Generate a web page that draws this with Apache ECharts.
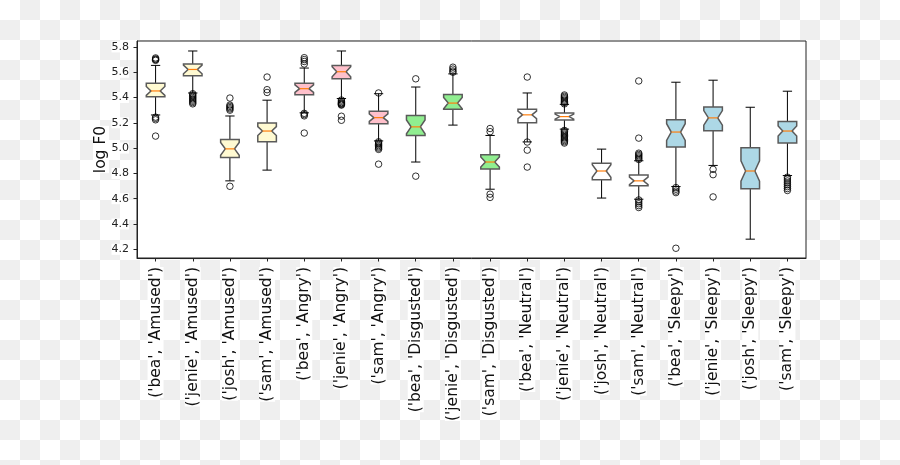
<!DOCTYPE html>
<html>
<head>
<meta charset="utf-8">
<script src="https://cdn.jsdelivr.net/npm/echarts@6/dist/echarts.min.js"></script>
<style>
html,body{margin:0;padding:0;}
body{width:900px;height:465px;background:repeating-conic-gradient(#efefef 0 25%, #ffffff 0 50%) 0 0/40px 40px;}
#chart{width:900px;height:465px;}
</style>
</head>
<body>
<div id="chart"></div>
<script>
const categories = ["('bea', 'Amused')", "('jenie', 'Amused')", "('josh', 'Amused')", "('sam', 'Amused')",
  "('bea', 'Angry')", "('jenie', 'Angry')", "('sam', 'Angry')",
  "('bea', 'Disgusted')", "('jenie', 'Disgusted')", "('sam', 'Disgusted')",
  "('bea', 'Neutral')", "('jenie', 'Neutral')", "('josh', 'Neutral')", "('sam', 'Neutral')",
  "('bea', 'Sleepy')", "('jenie', 'Sleepy')", "('josh', 'Sleepy')", "('sam', 'Sleepy')"];

const whiskerLo = [5.262, 5.436, 4.741, 4.826, 5.279, 5.392, 5.057, 4.890, 5.182, 4.675, 5.049, 5.150, 4.605, 4.596, 4.696, 4.863, 4.280, 4.783];
const q1        = [5.406, 5.573, 4.926, 5.050, 5.421, 5.549, 5.193, 5.100, 5.308, 4.835, 5.200, 5.223, 4.750, 4.703, 5.009, 5.137, 4.678, 5.040];
const notchLo   = [5.417, 5.588, 4.944, 5.100, 5.440, 5.564, 5.211, 5.113, 5.311, 4.850, 5.233, 5.229, 4.769, 4.711, 5.061, 5.181, 4.739, 5.095];
const median    = [5.452, 5.622, 4.994, 5.135, 5.470, 5.604, 5.241, 5.168, 5.356, 4.890, 5.263, 5.249, 4.819, 4.741, 5.127, 5.239, 4.819, 5.135];
const notchHi   = [5.487, 5.656, 5.044, 5.170, 5.500, 5.644, 5.271, 5.223, 5.401, 4.930, 5.293, 5.269, 4.869, 4.771, 5.193, 5.297, 4.899, 5.175];
const q3        = [5.513, 5.665, 5.068, 5.198, 5.512, 5.654, 5.291, 5.258, 5.423, 4.948, 5.308, 5.277, 4.881, 4.787, 5.224, 5.325, 5.002, 5.211];
const whiskerHi = [5.654, 5.768, 5.254, 5.379, 5.633, 5.768, 5.430, 5.483, 5.587, 5.100, 5.436, 5.346, 4.992, 4.900, 5.521, 5.537, 5.323, 5.450];

const fliers = [
  [5.713, 5.705, 5.700, 5.694, 5.245, 5.235, 5.224, 5.095],
  [5.43, 5.42, 5.41, 5.40, 5.39, 5.38, 5.37, 5.36, 5.35],
  [5.396, 5.34, 5.33, 5.32, 5.31, 5.30, 4.698],
  [5.562, 5.462, 5.440],
  [5.715, 5.700, 5.685, 5.665, 5.275, 5.265, 5.255, 5.119],
  [5.38, 5.37, 5.36, 5.355, 5.35, 5.345, 5.34, 5.252, 5.220],
  [5.436, 5.050, 5.040, 5.030, 5.020, 5.010, 5.000, 4.990, 4.873],
  [5.548, 4.778],
  [5.640, 5.625, 5.610, 5.600],
  [5.155, 5.130, 4.636, 4.610],
  [5.562, 5.048, 4.984, 4.850],
  [5.42, 5.41, 5.40, 5.39, 5.38, 5.37, 5.36, 5.35, 5.14, 5.13, 5.12, 5.11, 5.10, 5.09, 5.08, 5.07, 5.06, 5.05, 5.04],
  [],
  [5.531, 5.079, 4.960, 4.950, 4.940, 4.930, 4.920, 4.910, 4.590, 4.575, 4.560, 4.545, 4.530],
  [4.688, 4.675, 4.660, 4.648, 4.208],
  [4.832, 4.790, 4.614],
  [],
  [4.770, 4.755, 4.740, 4.725, 4.710, 4.695, 4.680, 4.665]
];

const boxColors = ['#fffad2', '#fffad2', '#fffad2', '#fffad2',
  '#ffc0cb', '#ffc0cb', '#ffc0cb',
  '#90ee90', '#90ee90', '#90ee90',
  '#ffffff', '#ffffff', '#ffffff', '#ffffff',
  '#add8e6', '#add8e6', '#add8e6', '#add8e6'];

const yTicks = [4.2, 4.4, 4.6, 4.8, 5.0, 5.2, 5.4, 5.6, 5.8];
const yMin = 4.131, yMax = 5.847;

const boxData = categories.map((c, i) => [i, whiskerLo[i], q1[i], notchLo[i], median[i], notchHi[i], q3[i], whiskerHi[i]]);
const flierData = [];
fliers.forEach((arr, i) => arr.forEach(v => flierData.push([i, v])));

const chart = echarts.init(document.getElementById('chart'), null, {renderer: 'canvas'});
const FONT = 'DejaVu Sans';

function renderBox(params, api) {
  const i = api.value(0);
  const band = api.size([1, 0])[0];
  const hw = band * 0.25;
  const cw = hw / 2;
  const p = (v) => api.coord([i, v]);
  const cx = p(api.value(4))[0];
  const y = (k) => p(api.value(k))[1];
  const yWL = y(1), yQ1 = y(2), yNL = y(3), yMed = y(4), yNH = y(5), yQ3 = y(6), yWH = y(7);
  const L = cx - hw, R = cx + hw;
  const lineStyle = {stroke: '#000', lineWidth: 1};
  return {
    type: 'group',
    children: [
      {type: 'line', shape: {x1: cx, y1: yQ1, x2: cx, y2: yWL}, style: lineStyle},
      {type: 'line', shape: {x1: cx, y1: yQ3, x2: cx, y2: yWH}, style: lineStyle},
      {type: 'line', shape: {x1: cx - cw, y1: yWL, x2: cx + cw, y2: yWL}, style: lineStyle},
      {type: 'line', shape: {x1: cx - cw, y1: yWH, x2: cx + cw, y2: yWH}, style: lineStyle},
      {type: 'polygon', shape: {points: [[L, yQ1], [R, yQ1], [R, yNL], [cx + cw, yMed], [R, yNH], [R, yQ3], [L, yQ3], [L, yNH], [cx - cw, yMed], [L, yNL]]},
        style: {fill: boxColors[i], stroke: '#5a5a5a', lineWidth: 1.5}},
      {type: 'line', shape: {x1: cx - cw, y1: yMed, x2: cx + cw, y2: yMed}, style: {stroke: '#ff7f0e', lineWidth: 1.2}}
    ]
  };
}

chart.setOption({
  animation: false,
  grid: {left: 137, right: 94, top: 41, bottom: 207, show: true, backgroundColor: '#fff', borderColor: '#222', borderWidth: 1},
  xAxis: {
    type: 'category',
    data: categories,
    boundaryGap: true,
    axisLine: {show: true, lineStyle: {color: '#222', width: 1}},
    axisTick: {show: true, alignWithLabel: true, length: 3.5, lineStyle: {color: '#222'}},
    axisLabel: {rotate: 90, interval: 0, margin: 9, fontFamily: FONT, fontSize: 15.5, color: '#111', backgroundColor: '#fff'},
    splitLine: {show: false}
  },
  yAxis: {
    type: 'value',
    min: yMin, max: yMax,
    name: 'log F0', nameLocation: 'middle', nameGap: 28, nameMoveOverlap: false,
    nameTextStyle: {fontFamily: FONT, fontSize: 15.5, color: '#111', backgroundColor: '#fff'},
    axisLine: {show: true, lineStyle: {color: '#222', width: 1}},
    axisTick: {show: true, length: 3.5, lineStyle: {color: '#222'}, customValues: yTicks},
    axisLabel: {margin: 8, fontFamily: FONT, fontSize: 11, color: '#222', backgroundColor: '#fff',
      customValues: yTicks, formatter: (v) => v.toFixed(1)},
    splitLine: {show: false}
  },
  series: [
    {type: 'custom', renderItem: renderBox, data: boxData, encode: {x: 0, y: [1, 2, 3, 4, 5, 6, 7]}, z: 2},
    {type: 'scatter', data: flierData, symbol: 'circle', symbolSize: 6.5,
      itemStyle: {color: 'rgba(0,0,0,0)', borderColor: '#000', borderWidth: 1}, z: 3}
  ]
});
</script>
</body>
</html>
